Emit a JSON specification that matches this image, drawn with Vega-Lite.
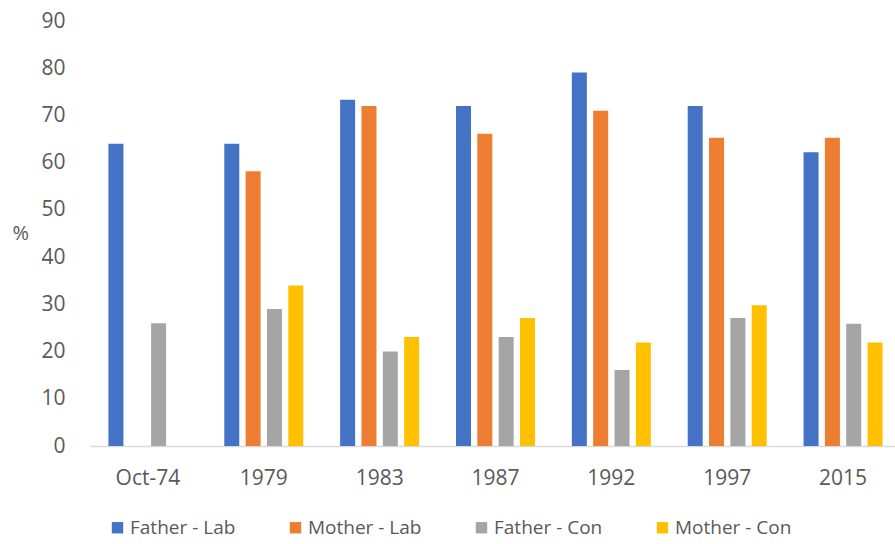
{
  "$schema": "https://vega.github.io/schema/vega-lite/v6.json",
  "width": 811,
  "height": 425,
  "padding": {"left": 90, "top": 21, "right": 0, "bottom": 98},
  "autosize": {"type": "none"},
  "background": "white",
  "config": {
    "view": {"stroke": null},
    "font": "Open Sans",
    "axis": {"labelFont": "Open Sans", "titleFont": "Open Sans", "labelColor": "#595959", "titleColor": "#595959"},
    "legend": {"labelFont": "Open Sans"}
  },
  "data": {
    "values": [
      {"period": "Oct-74", "series": "Father - Lab", "value": 64},
      {"period": "Oct-74", "series": "Father - Con", "value": 26},
      {"period": "1979", "series": "Father - Lab", "value": 64},
      {"period": "1979", "series": "Mother - Lab", "value": 58.2},
      {"period": "1979", "series": "Father - Con", "value": 29},
      {"period": "1979", "series": "Mother - Con", "value": 34},
      {"period": "1983", "series": "Father - Lab", "value": 73.3},
      {"period": "1983", "series": "Mother - Lab", "value": 72},
      {"period": "1983", "series": "Father - Con", "value": 20},
      {"period": "1983", "series": "Mother - Con", "value": 23.1},
      {"period": "1987", "series": "Father - Lab", "value": 72},
      {"period": "1987", "series": "Mother - Lab", "value": 66.1},
      {"period": "1987", "series": "Father - Con", "value": 23.1},
      {"period": "1987", "series": "Mother - Con", "value": 27.1},
      {"period": "1992", "series": "Father - Lab", "value": 79.1},
      {"period": "1992", "series": "Mother - Lab", "value": 71},
      {"period": "1992", "series": "Father - Con", "value": 16.1},
      {"period": "1992", "series": "Mother - Con", "value": 21.9},
      {"period": "1997", "series": "Father - Lab", "value": 72},
      {"period": "1997", "series": "Mother - Lab", "value": 65.3},
      {"period": "1997", "series": "Father - Con", "value": 27.1},
      {"period": "1997", "series": "Mother - Con", "value": 29.8},
      {"period": "2015", "series": "Father - Lab", "value": 62.2},
      {"period": "2015", "series": "Mother - Lab", "value": 65.3},
      {"period": "2015", "series": "Father - Con", "value": 25.9},
      {"period": "2015", "series": "Mother - Con", "value": 21.9}
    ]
  },
  "mark": {"type": "bar"},
  "encoding": {
    "x": {
      "field": "period",
      "type": "nominal",
      "sort": ["Oct-74", "1979", "1983", "1987", "1992", "1997", "2015"],
      "scale": {"paddingInner": 0.318, "paddingOuter": 0.159},
      "axis": {
        "title": null,
        "labelAngle": 0,
        "ticks": false,
        "domainColor": "#D9D9D9",
        "domainWidth": 1.5,
        "labelFontSize": 21,
        "labelPadding": 21
      }
    },
    "xOffset": {
      "field": "series",
      "type": "nominal",
      "sort": ["Father - Lab", "Mother - Lab", "Father - Con", "Mother - Con"],
      "scale": {"domain": ["Father - Lab", "Mother - Lab", "Father - Con", "Mother - Con"], "paddingInner": 0.297, "paddingOuter": 0}
    },
    "y": {
      "field": "value",
      "type": "quantitative",
      "scale": {"domain": [0, 90], "nice": false},
      "axis": {
        "title": "%",
        "titleAngle": 0,
        "titleFontSize": 20,
        "titleFontWeight": "normal",
        "titleX": -78,
        "titleY": 222,
        "titleAlign": "left",
        "values": [0, 10, 20, 30, 40, 50, 60, 70, 80, 90],
        "grid": false,
        "domain": false,
        "ticks": false,
        "labelFontSize": 21,
        "labelPadding": 25
      }
    },
    "color": {
      "field": "series",
      "type": "nominal",
      "sort": ["Father - Lab", "Mother - Lab", "Father - Con", "Mother - Con"],
      "scale": {
        "domain": ["Father - Lab", "Mother - Lab", "Father - Con", "Mother - Con"],
        "range": ["#4472C4", "#ED7D31", "#A5A5A5", "#FFC000"]
      },
      "legend": {
        "title": null,
        "orient": "none",
        "direction": "horizontal",
        "columns": 4,
        "legendX": 18,
        "legendY": 497,
        "symbolType": "square",
        "symbolSize": 130,
        "symbolStrokeWidth": 0,
        "labelFontSize": 19,
        "labelColor": "#595959",
        "labelOffset": 3,
        "columnPadding": 50
      }
    }
  }
}
